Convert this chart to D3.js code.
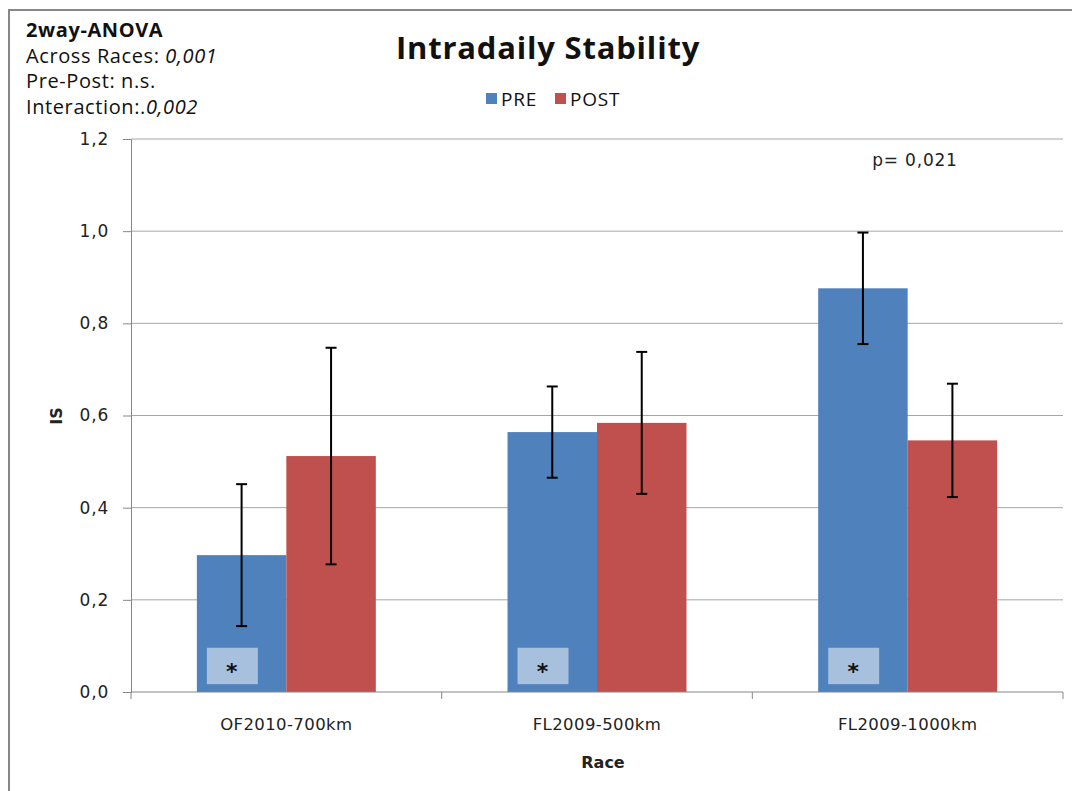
<!DOCTYPE html>
<html>
<head>
<meta charset="utf-8">
<script src="https://cdn.jsdelivr.net/npm/d3@7"></script>
<style>
  body { margin: 0; background: #fff; }
  svg { display: block; }
</style>
</head>
<body>
<svg id="chart" width="1072" height="791"></svg>
<script>
// data
const races = ["OF2010-700km", "FL2009-500km", "FL2009-1000km"];
const series = ["PRE", "POST"];
const preValues = [0.297, 0.564, 0.876];
const postValues = [0.512, 0.584, 0.546];
const preErrors = [0.154, 0.099, 0.121];
const postErrors = [0.235, 0.154, 0.123];
const preStars = ["*", "*", "*"];
const yTicks = [0, 0.2, 0.4, 0.6, 0.8, 1.0, 1.2];
const anovaLines = [
  ["2way-ANOVA", ""],
  ["Across Races: ", "0,001"],
  ["Pre-Post: n.s.", ""],
  ["Interaction:.", "0,002"]
];
const pNote = "p= 0,021";

const colors = {PRE: "#4f81bd", POST: "#c0504d"};
const layout = {left: 131, right: 1063, top: 139, bottom: 692};
const calibri = "'Open Sans', 'Noto Sans', sans-serif";
const verdana = "'DejaVu Sans', Verdana, sans-serif";

const rows = races.map((r, i) => ({
  race: r,
  PRE: {v: preValues[i], e: preErrors[i]},
  POST: {v: postValues[i], e: postErrors[i]},
  star: preStars[i]
}));

const svg = d3.select("#chart");

// outer frame
svg.append("rect")
  .attr("x", 9).attr("y", 10)
  .attr("width", 1100).attr("height", 820)
  .attr("fill", "none").attr("stroke", "#878787").attr("stroke-width", 2);

const x = d3.scaleBand()
  .domain(races)
  .range([layout.left, layout.right]);

const xInner = d3.scaleBand()
  .domain(series)
  .range([0, x.bandwidth()])
  .paddingInner(0)
  .paddingOuter(0.736);

const y = d3.scaleLinear()
  .domain([0, 1.2])
  .range([layout.bottom, layout.top]);

const comma = v => d3.format(".1f")(v).replace(".", ",");

// gridlines
svg.append("g")
  .selectAll("line")
  .data(yTicks.filter(t => t > 0))
  .join("line")
  .attr("x1", layout.left).attr("x2", layout.right)
  .attr("y1", d => y(d)).attr("y2", d => y(d))
  .attr("stroke", "#a6a6a6").attr("stroke-width", 1);

// y axis
const yAxis = svg.append("g")
  .attr("transform", `translate(${layout.left},0)`)
  .call(d3.axisLeft(y).tickValues(yTicks).tickFormat(comma).tickSize(8).tickPadding(14));
yAxis.select(".domain").attr("stroke", "#878787");
yAxis.selectAll(".tick line").attr("stroke", "#878787");
yAxis.selectAll("text")
  .attr("font-family", verdana).attr("font-size", 17).attr("letter-spacing", 0.8)
  .attr("fill", "#222");

// bars
const groups = svg.append("g")
  .selectAll("g")
  .data(rows)
  .join("g")
  .attr("transform", d => `translate(${x(d.race)},0)`);

groups.selectAll("rect.bar")
  .data(d => series.map(s => ({s, v: d[s].v, e: d[s].e})))
  .join("rect")
  .attr("class", "bar")
  .attr("x", d => xInner(d.s))
  .attr("width", xInner.bandwidth())
  .attr("y", d => y(d.v))
  .attr("height", d => y(0) - y(d.v))
  .attr("fill", d => colors[d.s]);

// star boxes on PRE bars
groups.append("rect")
  .attr("x", xInner("PRE") + 10)
  .attr("y", y(0.096))
  .attr("width", 51)
  .attr("height", y(0.017) - y(0.096))
  .attr("fill", "#a7c0de");
groups.append("text")
  .attr("x", xInner("PRE") + 35)
  .attr("y", y(0.0) - 13)
  .attr("text-anchor", "middle")
  .attr("font-family", verdana)
  .attr("font-weight", "bold")
  .attr("font-size", 22)
  .attr("fill", "#111")
  .text(d => d.star);

// error bars
const err = groups.selectAll("g.err")
  .data(d => series.map(s => ({s, v: d[s].v, e: d[s].e})))
  .join("g")
  .attr("class", "err")
  .attr("transform", d => `translate(${xInner(d.s) + xInner.bandwidth() / 2},0)`);
err.append("line")
  .attr("y1", d => y(d.v - d.e)).attr("y2", d => y(d.v + d.e))
  .attr("stroke", "#000").attr("stroke-width", 2);
err.selectAll("line.cap")
  .data(d => [d.v - d.e, d.v + d.e])
  .join("line")
  .attr("class", "cap")
  .attr("x1", -5.5).attr("x2", 5.5)
  .attr("y1", d => y(d)).attr("y2", d => y(d))
  .attr("stroke", "#000").attr("stroke-width", 2);

// x axis
const xAxis = svg.append("g")
  .attr("transform", `translate(0,${layout.bottom})`);
xAxis.append("line")
  .attr("x1", layout.left).attr("x2", layout.right)
  .attr("stroke", "#878787");
xAxis.selectAll("line.tick")
  .data(races.map(r => x(r) + x.bandwidth()).concat([layout.left]))
  .join("line")
  .attr("class", "tick")
  .attr("x1", d => d).attr("x2", d => d)
  .attr("y1", 0).attr("y2", 7)
  .attr("stroke", "#878787");
xAxis.selectAll("text")
  .data(races)
  .join("text")
  .attr("x", d => x(d) + x.bandwidth() / 2)
  .attr("y", 38)
  .attr("text-anchor", "middle")
  .attr("font-family", verdana).attr("font-size", 16.5).attr("letter-spacing", 0.4)
  .attr("fill", "#222")
  .text(d => d);

// axis titles
svg.append("text")
  .attr("x", 603).attr("y", 768)
  .attr("text-anchor", "middle")
  .attr("font-family", verdana).attr("font-weight", "bold").attr("font-size", 16)
  .attr("fill", "#222")
  .text("Race");
svg.append("text")
  .attr("transform", "translate(62,416) rotate(-90)")
  .attr("text-anchor", "middle")
  .attr("font-family", verdana).attr("font-weight", "bold").attr("font-size", 16)
  .attr("fill", "#222")
  .text("IS");

// title
svg.append("text")
  .attr("x", 548).attr("y", 59)
  .attr("text-anchor", "middle")
  .attr("font-family", calibri).attr("font-weight", "bold").attr("font-size", 31)
  .attr("letter-spacing", 0.8)
  .attr("fill", "#111")
  .text("Intradaily Stability");

// legend
const legend = svg.append("g").attr("transform", "translate(486,93)");
const legendX = [0, 69];
series.forEach((s, i) => {
  legend.append("rect")
    .attr("x", legendX[i]).attr("y", 0)
    .attr("width", 11).attr("height", 11)
    .attr("fill", colors[s]);
  legend.append("text")
    .attr("x", legendX[i] + 15).attr("y", 13)
    .attr("font-family", calibri).attr("font-size", 19).attr("letter-spacing", 0.8)
    .attr("fill", "#111")
    .text(s);
});

// anova note
const note = svg.append("text")
  .attr("font-family", calibri).attr("font-size", 20).attr("letter-spacing", 0.6)
  .attr("fill", "#111");
anovaLines.forEach((ln, i) => {
  note.append("tspan")
    .attr("x", 26).attr("y", 37 + i * 25.5)
    .attr("font-weight", i === 0 ? "bold" : "normal")
    .text(ln[0]);
  if (ln[1]) {
    note.append("tspan").attr("font-style", "italic").text(ln[1]);
  }
});

// p value note
svg.append("text")
  .attr("x", 915).attr("y", 166)
  .attr("text-anchor", "middle")
  .attr("font-family", verdana).attr("font-size", 17).attr("letter-spacing", 0.8)
  .attr("fill", "#222")
  .text(pNote);
</script>
</body>
</html>
